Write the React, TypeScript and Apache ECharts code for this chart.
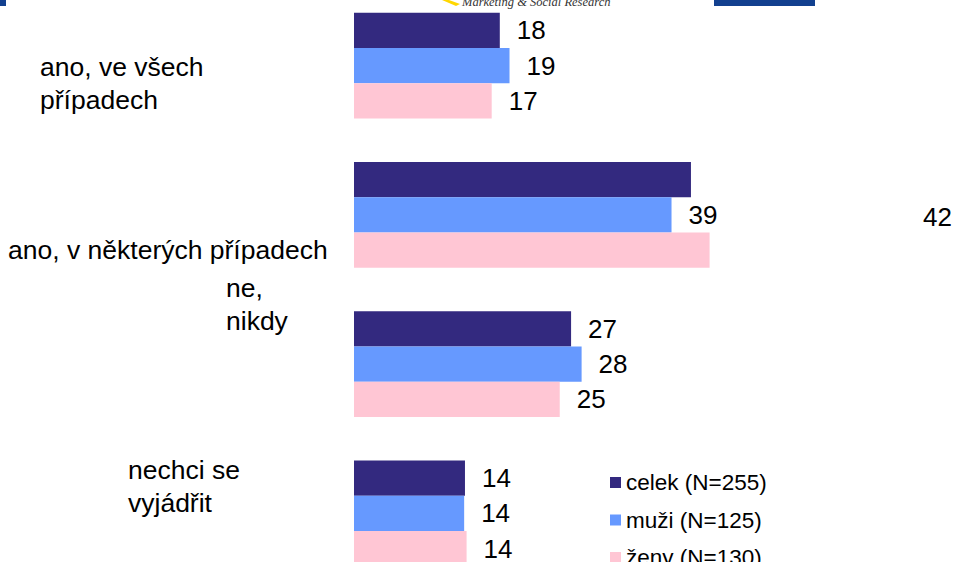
import React, { useEffect, useRef } from "react";
import * as echarts from "echarts";

const categories = [
  "ano, ve všech\npřípadech",
  "ano, v některých případech",
  "ne,\nnikdy",
  "nechci se\nvyjádřit",
];
const seriesNames = ["celek (N=255)", "muži (N=125)", "ženy (N=130)"];
const celek = [18.0, 41.6, 26.8, 13.7];
const muzi = [19.2, 39.2, 28.1, 13.6];
const zeny = [17.0, 43.9, 25.4, 13.9];
const colors = ["#33297F", "#6699FF", "#FFC6D4"];

// per-category label placement (layout only)
const catLabelPos = [
  { x: 40, y: 50 },
  { x: 8, y: 233 },
  { x: 226, y: 271 },
  { x: 128, y: 453 },
];

const FONT = "'Liberation Sans', Arial, sans-serif";

export default function App() {
  const ref = useRef<HTMLDivElement>(null);
  useEffect(() => {
    document.body.style.margin = "0";
    const chart = echarts.init(ref.current!, null, { renderer: "svg" });
    const labelBase = {
      show: true,
      position: "right",
      distance: 17,
      fontSize: 26,
      fontFamily: FONT,
      color: "#000",
      formatter: (p: any) => String(Math.round(p.value)),
    };
    const mk = (name: string, vals: number[], color: string, idx: number) => ({
      name,
      type: "bar",
      data: vals.map((v, i) => {
        if (idx === 0 && i === 1) {
          return { value: v, label: { offset: [215, 37] } };
        }
        if (idx === 2 && i === 1) {
          return { value: v, label: { show: false } };
        }
        return v;
      }),
      barWidth: 35.3,
      barGap: "0%",
      itemStyle: { color },
      label: labelBase,
    });
    chart.setOption({
      animation: false,
      textStyle: { fontFamily: FONT },
      grid: {
        left: 354,
        top: -9,
        width: 567,
        height: 597,
        outerBoundsMode: "none",
        containLabel: false,
      },
      xAxis: {
        type: "value",
        min: 0,
        max: 70,
        show: false,
        splitLine: { show: false },
      },
      yAxis: {
        type: "category",
        data: categories,
        inverse: true,
        axisLine: { show: false },
        axisTick: { show: false },
        axisLabel: { show: false },
      },
      legend: {
        orient: "vertical",
        left: 605,
        top: 466,
        height: 150,
        itemWidth: 11,
        itemHeight: 11,
        itemGap: 14.5,
        icon: "rect",
        textStyle: { fontSize: 22.5, fontFamily: FONT, color: "#000", lineHeight: 22 },
        data: seriesNames,
      },
      series: [
        mk(seriesNames[0], celek, colors[0], 0),
        mk(seriesNames[1], muzi, colors[1], 1),
        mk(seriesNames[2], zeny, colors[2], 2),
      ],
      graphic: [
        ...categories.map((c, i) => ({
          type: "text",
          x: catLabelPos[i].x,
          y: catLabelPos[i].y,
          style: {
            text: c,
            font: `26.5px ${FONT}`,
            fill: "#000",
            lineHeight: 33,
            verticalAlign: "top",
          },
        })),
        { type: "rect", shape: { x: 0, y: 0, width: 6, height: 6 }, style: { fill: "#12408F" } },
        { type: "rect", shape: { x: 714, y: 0, width: 101, height: 6 }, style: { fill: "#12408F" } },
        {
          type: "polygon",
          shape: { points: [[442, 0], [449, 0], [460, 4], [456, 6]] },
          style: { fill: "#FFD700" },
        },
        {
          type: "text",
          x: 462,
          y: 8,
          style: {
            text: "Marketing & Social Research",
            font: "italic 12.5px 'Liberation Serif', serif",
            fill: "#333",
            verticalAlign: "bottom",
          },
        },
      ],
    });
    return () => chart.dispose();
  }, []);
  return <div ref={ref} style={{ width: 954, height: 562 }} />;
}
